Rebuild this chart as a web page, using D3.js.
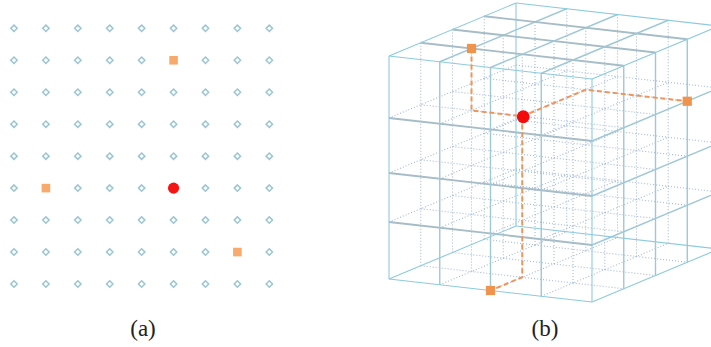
<!DOCTYPE html>
<html><head><meta charset="utf-8">
<script src="https://cdn.jsdelivr.net/npm/d3@7"></script>
<style>html,body{margin:0;padding:0;background:#fff;}svg{display:block;}</style>
</head><body>
<script>
// ---------- data ----------
// (a) 2-D lattice
const lattice2dSize = 9;
const center2d = [5, 5];
const neighbors2d = [[5, 1], [1, 5], [7, 7]];
// (b) 3-D lattice (cells per axis; i = left-right, j = depth, k = top-down)
const cells3d = 4;
const levelTicks = [0, 1, 2, 3, 4];
const center3d = [2, 1, 1];
const neighbors3d = [[1, 1, 0], [4, 3, 1], [2, 0, 4]];
const neighborPaths3d = [
  [[1, 1, 0], [1, 1, 1], [2, 1, 1]],
  [[2, 1, 1], [2, 3, 1], [4, 3, 1]],
  [[2, 1, 1], [2, 1, 4], [2, 0, 4]]
];
const panelLabels = ["(a)", "(b)"];

// ---------- setup ----------
const W = 711, H = 347;
const svg = d3.select("body").append("svg").attr("width", W).attr("height", H);

// ---------- panel (a) ----------
const gx = d3.scaleLinear().domain([0, lattice2dSize - 1]).range([14, 269.3]);
const gy = d3.scaleLinear().domain([0, lattice2dSize - 1]).range([28.3, 284]);
const pa = svg.append("g");
const isSpecial = (c, r) => (c === center2d[0] && r === center2d[1]) ||
  neighbors2d.some(n => n[0] === c && n[1] === r);
const nodes = d3.cross(d3.range(lattice2dSize), d3.range(lattice2dSize))
  .filter(([c, r]) => !isSpecial(c, r));
pa.selectAll("path.dia").data(nodes).join("path")
  .attr("class", "dia")
  .attr("d", d3.symbol(d3.symbolDiamond2, 26)())
  .attr("transform", d => `translate(${gx(d[0])},${gy(d[1])})`)
  .attr("fill", "#ffffff").attr("stroke", "#9ac6d0").attr("stroke-width", 1.5);
pa.selectAll("rect.nb").data(neighbors2d).join("rect")
  .attr("class", "nb")
  .attr("x", d => gx(d[0]) - 4.3).attr("y", d => gy(d[1]) - 4.3)
  .attr("width", 8.6).attr("height", 8.6)
  .attr("fill", "#f7aa6c");
pa.append("circle").attr("cx", gx(center2d[0])).attr("cy", gy(center2d[1]))
  .attr("r", 5.6).attr("fill", "#f41414");

// ---------- panel (b) ----------
// affine oblique projection built from scales
const ui = d3.scaleLinear().domain([0, cells3d]).range([0, 203]);    // x shift along i
const uiY = d3.scaleLinear().domain([0, cells3d]).range([0, 23]);    // y shift along i
const dj = d3.scaleLinear().domain([0, cells3d]).range([0, 127]);    // x shift along depth
const djY = d3.scaleLinear().domain([0, cells3d]).range([0, -53]);   // y shift along depth
const hk = d3.scaleLinear().domain(levelTicks).range([0, 62, 117, 166, 223]); // vertical levels
const ox = 389, oy = 56;
const proj = ([i, j, k]) => [ox + ui(i) + dj(j), oy + uiY(i) + djY(j) + hk(k)];

const N = cells3d;
const lines = [];
const R = d3.range(N + 1);
const isEdge = (a, b) => (a === 0 || a === N) && (b === 0 || b === N);
for (const a of R) for (const b of R) {
  lines.push({ p: [[0, a, b], [N, a, b]], edge: isEdge(a, b), face: a === 0 || b === 0, dir: "i" });
  lines.push({ p: [[a, 0, b], [a, N, b]], edge: isEdge(a, b), face: a === N || b === 0, dir: "j" });
  lines.push({ p: [[a, b, 0], [a, b, N]], edge: isEdge(a, b), face: b === 0 || a === N, dir: "k" });
}
const line = d3.line();
const pb = svg.append("g");
const dotted = lines.filter(l => !l.edge && !l.face);
const faceLines = lines.filter(l => !l.edge && l.face);
const edges = lines.filter(l => l.edge);

pb.append("g").selectAll("path").data(dotted).join("path")
  .attr("d", d => line(d.p.map(proj)))
  .attr("fill", "none").attr("stroke", "#a3b8d8").attr("stroke-width", 1.1)
  .attr("stroke-dasharray", "1,2");
pb.append("g").selectAll("path").data(faceLines).join("path")
  .attr("d", d => line(d.p.map(proj)))
  .attr("fill", "none")
  .attr("stroke", d => d.dir === "i" ? "#a6bcc6" : "#9fc8d6")
  .attr("stroke-width", d => d.dir === "i" ? 1.8 : 1.4);
pb.append("g").selectAll("path").data(edges).join("path")
  .attr("d", d => line(d.p.map(proj)))
  .attr("fill", "none").attr("stroke", "#8ccbdd").attr("stroke-width", 1.1);

pb.append("g").selectAll("path").data(neighborPaths3d).join("path")
  .attr("d", d => line(d.map(proj)))
  .attr("fill", "none").attr("stroke", "#ee955a").attr("stroke-width", 2)
  .attr("stroke-dasharray", "5,3");
pb.append("g").selectAll("rect").data(neighbors3d).join("rect")
  .attr("x", d => proj(d)[0] - 4.6).attr("y", d => proj(d)[1] - 4.6)
  .attr("width", 9.2).attr("height", 9.2).attr("fill", "#f0934c");
pb.append("circle").attr("cx", proj(center3d)[0] + 1).attr("cy", proj(center3d)[1] + 0.5)
  .attr("r", 6.4).attr("fill", "#f40c0c");

// ---------- labels ----------
svg.selectAll("text.lab").data(panelLabels).join("text")
  .attr("class", "lab")
  .attr("x", (d, i) => i === 0 ? 143 : 545).attr("y", 336)
  .attr("text-anchor", "middle")
  .attr("font-family", "'Liberation Serif', 'DejaVu Serif', serif")
  .attr("font-size", 23).attr("fill", "#222")
  .text(d => d);
</script>
</body></html>
